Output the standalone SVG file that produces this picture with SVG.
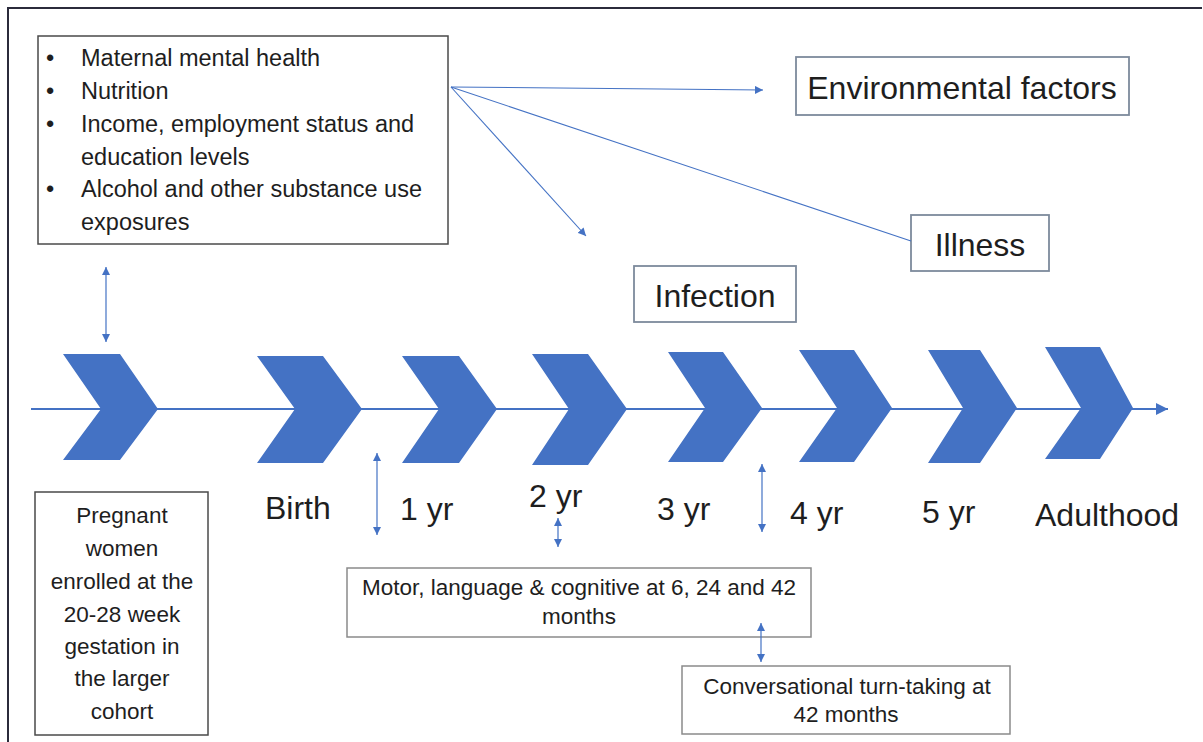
<svg xmlns="http://www.w3.org/2000/svg" width="1203" height="742" viewBox="0 0 1203 742">
  <style>
    text { font-family: "Liberation Sans", Arial, sans-serif; fill: #1e1e1e; }
    .big { font-size: 32px; }
    .mid { font-size: 22.5px; }
    .list { font-size: 23.5px; }
    .box { fill: #ffffff; stroke: #4a4a4a; stroke-width: 1.5; }
    .boxb { fill: #ffffff; stroke: #7d8a9c; stroke-width: 1.8; }
    .boxg { fill: #ffffff; stroke: #8a8a8a; stroke-width: 1.5; }
    .chev { fill: #4472c4; }
    .link { stroke: #4472c4; stroke-width: 1.1; fill: none; }
    .dbl { stroke: #4472c4; stroke-width: 1.2; fill: none; marker-start: url(#head); marker-end: url(#head); }
  </style>
  <defs>
    <marker id="head" viewBox="0 0 8 8" refX="8" refY="4" markerWidth="8" markerHeight="8" markerUnits="userSpaceOnUse" orient="auto-start-reverse">
      <path d="M0,0 L8,4 L0,8 z" fill="#4472c4"/>
    </marker>
    <marker id="bighead" viewBox="0 0 12 12" refX="12" refY="6" markerWidth="12" markerHeight="12" markerUnits="userSpaceOnUse" orient="auto">
      <path d="M0,0 L12,6 L0,12 z" fill="#4472c4"/>
    </marker>
  </defs>

  <rect width="1203" height="742" fill="#ffffff"/>
  <!-- page frame -->
  <path d="M8,742 V8 H1202" fill="none" stroke="#2b2b3b" stroke-width="2"/>

  <!-- timeline axis -->
  <g id="timeline">
    <line x1="31" y1="409" x2="1168" y2="409" stroke="#4472c4" stroke-width="2" marker-end="url(#bighead)"/>
  </g>

  <!-- stage chevrons -->
  <g id="chevrons">
    <polygon class="chev" points="63,354 120,354 158,409 120,460 63,460 101,409"/>
    <polygon class="chev" points="257,356 323,356 362,409 323,463 257,463 295,409"/>
    <polygon class="chev" points="402,356 459,356 497,409 459,463 402,463 439,409"/>
    <polygon class="chev" points="532,354 588,354 627,409 588,465 532,465 569,409"/>
    <polygon class="chev" points="668,352 723,352 762,408 723,462 668,462 705,408"/>
    <polygon class="chev" points="799,350 854,350 892,408 854,462 799,462 837,408"/>
    <polygon class="chev" points="928,350 980,350 1017,408 980,463 928,463 963,408"/>
    <polygon class="chev" points="1045,347 1100,347 1133,408 1100,459 1045,459 1081,408"/>
  </g>

  <!-- maternal factors list -->
  <g id="factors">
    <rect class="box" x="38" y="36" width="410" height="208"/>
    <g class="list">
      <text x="46" y="66">•</text>
      <text x="81" y="66">Maternal mental health</text>
      <text x="46" y="99">•</text>
      <text x="81" y="99">Nutrition</text>
      <text x="46" y="132">•</text>
      <text x="81" y="132">Income, employment status and</text>
      <text x="81" y="165">education levels</text>
      <text x="46" y="197">•</text>
      <text x="81" y="197">Alcohol and other substance use</text>
      <text x="81" y="230">exposures</text>
    </g>
  </g>

  <g id="environmental">
    <rect class="boxb" x="796" y="57" width="333" height="58"/>
    <text class="big" x="962" y="99" text-anchor="middle">Environmental factors</text>
  </g>

  <g id="illness">
    <rect class="boxb" x="911" y="215" width="138" height="56"/>
    <text class="big" x="980" y="256" text-anchor="middle">Illness</text>
  </g>

  <g id="infection">
    <rect class="boxb" x="634" y="266" width="162" height="56"/>
    <text class="big" x="715" y="307" text-anchor="middle">Infection</text>
  </g>

  <!-- stage labels -->
  <g id="labels" class="big">
    <text x="265" y="519">Birth</text>
    <text x="400" y="520">1 yr</text>
    <text x="529" y="507">2 yr</text>
    <text x="657" y="520">3 yr</text>
    <text x="790" y="524">4 yr</text>
    <text x="922" y="523">5 yr</text>
    <text x="1035" y="526">Adulthood</text>
  </g>

  <g id="cohort">
    <rect class="box" x="35" y="492" width="173" height="243"/>
    <g class="mid" text-anchor="middle">
      <text x="122" y="523">Pregnant</text>
      <text x="122" y="556">women</text>
      <text x="122" y="589">enrolled at the</text>
      <text x="122" y="622">20-28 week</text>
      <text x="122" y="654">gestation in</text>
      <text x="122" y="686">the larger</text>
      <text x="122" y="719">cohort</text>
    </g>
  </g>

  <g id="development">
    <rect class="boxg" x="347" y="568" width="464" height="69"/>
    <g class="mid" text-anchor="middle">
      <text x="579" y="595">Motor, language &amp; cognitive at 6, 24 and 42</text>
      <text x="579" y="624">months</text>
    </g>
  </g>

  <g id="turntaking">
    <rect class="boxg" x="682" y="666" width="328" height="68"/>
    <g class="mid" text-anchor="middle">
      <text x="847" y="694">Conversational turn-taking at</text>
      <text x="846" y="722">42 months</text>
    </g>
  </g>

  <!-- connectors, drawn last so they sit above the boxes -->
  <g id="connectors">
    <line class="link" x1="451" y1="87" x2="763" y2="90" marker-end="url(#head)"/>
    <line class="link" x1="451" y1="87" x2="586" y2="236" marker-end="url(#head)"/>
    <line class="link" x1="451" y1="87" x2="911" y2="241"/>
    <line class="dbl" x1="106" y1="267" x2="106" y2="342"/>
    <line class="dbl" x1="377" y1="453" x2="377" y2="535"/>
    <line class="dbl" x1="558" y1="518" x2="558" y2="547"/>
    <line class="dbl" x1="762" y1="464" x2="762" y2="532"/>
    <line class="dbl" x1="761" y1="623" x2="761" y2="662"/>
  </g>
</svg>
